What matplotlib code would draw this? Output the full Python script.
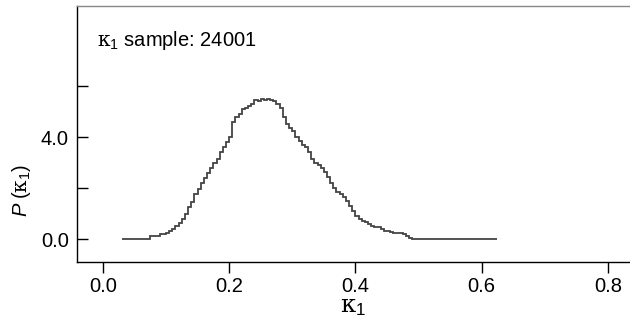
"""Step histogram of kappa_1 samples."""

import matplotlib
matplotlib.use("Agg")
import matplotlib.pyplot as plt
import numpy as np

# ── Data ──────────────────────────────────────────────────────────────────────

BIN_START = 0.030
BIN_WIDTH = 0.005

p_kappa = [
    # 0.030 - 0.070
    0, 0, 0, 0, 0, 0, 0, 0, 0,
    # 0.075 - 0.120
    0.12, 0.12, 0.12, 0.20, 0.20, 0.24, 0.30, 0.40, 0.50, 0.62,
    # 0.125 - 0.170
    0.80, 1.00, 1.25, 1.45, 1.75, 1.95, 2.20, 2.40, 2.60, 2.80,
    # 0.175 - 0.220
    3.00, 3.15, 3.40, 3.60, 3.80, 4.00, 4.60, 4.80, 4.90, 5.10,
    # 0.225 - 0.270
    5.15, 5.20, 5.30, 5.45, 5.40, 5.50, 5.45, 5.50, 5.45, 5.40,
    # 0.275 - 0.320
    5.30, 5.15, 4.80, 4.50, 4.35, 4.25, 4.00, 3.85, 3.70, 3.60,
    # 0.325 - 0.370
    3.40, 3.15, 3.00, 2.90, 2.80, 2.62, 2.45, 2.20, 2.00, 1.85,
    # 0.375 - 0.420
    1.75, 1.65, 1.50, 1.30, 1.10, 0.90, 0.80, 0.70, 0.65, 0.60,
    # 0.425 - 0.470
    0.52, 0.48, 0.47, 0.40, 0.32, 0.30, 0.26, 0.24, 0.24, 0.24,
    # 0.475 - 0.485
    0.20, 0.12, 0.06,
    # 0.490 - 0.620
    0, 0, 0, 0, 0, 0, 0, 0, 0, 0, 0, 0, 0, 0,
    0, 0, 0, 0, 0, 0, 0, 0, 0, 0, 0, 0, 0,
]

x_ticks = [0.0, 0.2, 0.4, 0.6, 0.8]
y_major = [0.0, 4.0]
y_minor = [2.0, 6.0]
n_samples = 24001

# ── Style ─────────────────────────────────────────────────────────────────────

plt.rcParams["font.family"] = ["Liberation Sans", "DejaVu Sans"]
plt.rcParams["mathtext.fontset"] = "custom"
plt.rcParams["mathtext.rm"] = "DejaVu Serif"
plt.rcParams["mathtext.it"] = "Liberation Sans:italic"
plt.rcParams["mathtext.sf"] = "Liberation Sans"
FS = 14.5
LINE = "#444444"

KAPPA = r"\mathrm{\kappa}_\mathsf{1}"

edges = BIN_START + BIN_WIDTH * np.arange(len(p_kappa) + 1)

fig = plt.figure(figsize=(6.3, 3.31), dpi=100)
ax = fig.add_axes([77 / 630, 1 - 262 / 331, 1 - 77 / 630, 256 / 331])

ax.stairs(p_kappa, edges, color=LINE, linewidth=1.3, baseline=None)

ax.set_xlim(-0.041, 0.835)
ax.set_ylim(-0.9, 9.14)

ax.spines["right"].set_visible(False)
ax.spines["top"].set_color("#888888")
ax.spines["top"].set_linewidth(1.0)
for s in ("left", "bottom"):
    ax.spines[s].set_linewidth(1.0)

ax.set_xticks(x_ticks)
ax.set_xticklabels([f"{v:.1f}" for v in x_ticks], fontsize=FS)
ax.tick_params(axis="x", direction="out", length=8, width=1, pad=3)

ax.set_yticks(y_major)
ax.set_yticks(y_minor, minor=True)
ax.set_yticklabels([f"{v:.1f}" for v in y_major], fontsize=FS)
ax.tick_params(axis="y", which="both", direction="in", length=8, width=1, pad=6)

ax.set_xlabel(f"${KAPPA}$", fontsize=FS + 3, labelpad=0)
ax.set_ylabel(rf"$\mathit{{P}}\;\mathsf{{(}}{KAPPA}\mathsf{{)}}$", fontsize=FS)
ax.yaxis.set_label_coords(-0.08, 0.28)

ax.text(0.036, 0.844, f"${KAPPA}$ sample: {n_samples}",
        transform=ax.transAxes, fontsize=FS, ha="left", va="baseline")

fig.savefig("out.png", dpi=100)
